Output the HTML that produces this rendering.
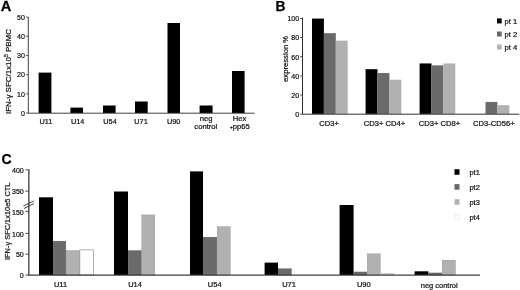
<!DOCTYPE html>
<html><head><meta charset="utf-8"><title>Figure</title>
<style>
html,body{margin:0;padding:0;background:#fff;}
body{width:520px;height:290px;overflow:hidden;}
svg{display:block;font-family:"Liberation Sans",Arial,sans-serif;fill:#111;}
text{stroke:#111;stroke-width:0.22px;}
text.big{stroke:#000;stroke-width:0.25px;fill:#000;}
</style></head><body>
<svg width="520" height="290" viewBox="0 0 520 290">
<rect width="520" height="290" fill="#fff"/>
<defs><filter id="bl" x="0" y="0" width="520" height="290" filterUnits="userSpaceOnUse"><feGaussianBlur stdDeviation="0.4"/></filter></defs>
<g filter="url(#bl)">
<g id="pA">
<text transform="translate(0.8,11) scale(1.06,1)" font-size="13.8" font-weight="bold" class="big">A</text>
<rect x="38.60" y="72.60" width="12.80" height="40.40" fill="#000"/>
<rect x="70.40" y="107.60" width="12.60" height="5.40" fill="#000"/>
<rect x="103.00" y="105.50" width="12.60" height="7.50" fill="#000"/>
<rect x="135.00" y="101.50" width="12.70" height="11.50" fill="#000"/>
<rect x="167.50" y="23.00" width="12.50" height="90.00" fill="#000"/>
<rect x="199.60" y="105.50" width="13.00" height="7.50" fill="#000"/>
<rect x="232.00" y="71.00" width="12.60" height="42.00" fill="#000"/>
<path d="M28.3 17V113.2H254.5" fill="none" stroke="#383838" stroke-width="0.95"/>
<path d="M25.8 17.10H28.3" stroke="#383838" stroke-width="0.8"/>
<text transform="translate(24.9,19.90) scale(0.885,1)" font-size="8.0" text-anchor="end">50</text>
<path d="M25.8 36.28H28.3" stroke="#383838" stroke-width="0.8"/>
<text transform="translate(24.9,39.08) scale(0.885,1)" font-size="8.0" text-anchor="end">40</text>
<path d="M25.8 55.46H28.3" stroke="#383838" stroke-width="0.8"/>
<text transform="translate(24.9,58.26) scale(0.885,1)" font-size="8.0" text-anchor="end">30</text>
<path d="M25.8 74.64H28.3" stroke="#383838" stroke-width="0.8"/>
<text transform="translate(24.9,77.44) scale(0.885,1)" font-size="8.0" text-anchor="end">20</text>
<path d="M25.8 93.82H28.3" stroke="#383838" stroke-width="0.8"/>
<text transform="translate(24.9,96.62) scale(0.885,1)" font-size="8.0" text-anchor="end">10</text>
<path d="M25.8 113.00H28.3" stroke="#383838" stroke-width="0.8"/>
<text transform="translate(24.9,115.80) scale(0.885,1)" font-size="8.0" text-anchor="end">0</text>
<text transform="translate(45.9,124) scale(1,1)" font-size="7.3" text-anchor="middle">U11</text>
<text transform="translate(77.7,124) scale(1,1)" font-size="7.3" text-anchor="middle">U14</text>
<text transform="translate(110,124) scale(1,1)" font-size="7.3" text-anchor="middle">U54</text>
<text transform="translate(141,124) scale(1,1)" font-size="7.3" text-anchor="middle">U71</text>
<text transform="translate(173.7,124) scale(1,1)" font-size="7.3" text-anchor="middle">U90</text>
<text transform="translate(206.2,120.8) scale(1.06,1)" font-size="7.2" text-anchor="middle">neg</text>
<text transform="translate(205.8,129.4) scale(1.06,1)" font-size="7.2" text-anchor="middle">control</text>
<text transform="translate(239.6,120.8) scale(1.06,1)" font-size="7.2" text-anchor="middle">Hex</text>
<text transform="translate(239.7,129.4) scale(1.06,1)" font-size="7.2" text-anchor="middle"><tspan font-size="5" dy="-0.6">+</tspan><tspan dy="0.6">pp65</tspan></text>
<text transform="translate(10.8,114) rotate(-90)" font-size="7.7" textLength="85" lengthAdjust="spacingAndGlyphs">IFN-γ SFC/1x10<tspan font-size="5" dy="-3">5</tspan><tspan dy="3"> PBMC</tspan></text>
</g>
<g id="pB">
<text x="275.4" y="11" font-size="13.8" font-weight="bold" class="big">B</text>
<rect x="312.00" y="18.59" width="11.90" height="95.31" fill="#000"/>
<rect x="323.90" y="33.15" width="11.90" height="80.75" fill="#6a6a6a"/>
<rect x="335.80" y="40.63" width="11.90" height="73.27" fill="#b1b1b1"/>
<rect x="365.60" y="69.17" width="11.90" height="44.73" fill="#000"/>
<rect x="377.50" y="73.01" width="11.90" height="40.89" fill="#6a6a6a"/>
<rect x="389.40" y="79.71" width="11.90" height="34.19" fill="#b1b1b1"/>
<rect x="419.60" y="63.43" width="11.90" height="50.47" fill="#000"/>
<rect x="431.50" y="65.34" width="11.90" height="48.56" fill="#6a6a6a"/>
<rect x="443.40" y="63.43" width="11.90" height="50.47" fill="#b1b1b1"/>
<rect x="485.50" y="101.94" width="11.90" height="11.96" fill="#6a6a6a"/>
<rect x="497.40" y="105.19" width="11.90" height="8.71" fill="#b1b1b1"/>
<path d="M302.5 17.8V114.2H519.4" fill="none" stroke="#2e2e2e" stroke-width="1"/>
<path d="M300 18.40H302.5" stroke="#2e2e2e" stroke-width="0.8"/>
<text transform="translate(299.2,21.20) scale(0.885,1)" font-size="8.0" text-anchor="end">100</text>
<path d="M300 37.56H302.5" stroke="#2e2e2e" stroke-width="0.8"/>
<text transform="translate(299.2,40.36) scale(0.885,1)" font-size="8.0" text-anchor="end">80</text>
<path d="M300 56.72H302.5" stroke="#2e2e2e" stroke-width="0.8"/>
<text transform="translate(299.2,59.52) scale(0.885,1)" font-size="8.0" text-anchor="end">60</text>
<path d="M300 75.88H302.5" stroke="#2e2e2e" stroke-width="0.8"/>
<text transform="translate(299.2,78.68) scale(0.885,1)" font-size="8.0" text-anchor="end">40</text>
<path d="M300 95.04H302.5" stroke="#2e2e2e" stroke-width="0.8"/>
<text transform="translate(299.2,97.84) scale(0.885,1)" font-size="8.0" text-anchor="end">20</text>
<path d="M300 114.20H302.5" stroke="#2e2e2e" stroke-width="0.8"/>
<text transform="translate(299.2,117.00) scale(0.885,1)" font-size="8.0" text-anchor="end">0</text>
<text transform="translate(329.1,126.1) scale(0.99,1)" font-size="7.7" text-anchor="middle">CD3+</text>
<text transform="translate(384.5,126.1) scale(0.99,1)" font-size="7.7" text-anchor="middle">CD3+ CD4+</text>
<text transform="translate(439.5,126.1) scale(0.99,1)" font-size="7.7" text-anchor="middle">CD3+ CD8+</text>
<text transform="translate(493.8,126.1) scale(0.99,1)" font-size="7.7" text-anchor="middle">CD3-CD56+</text>
<text transform="translate(288.2,58.9) rotate(-90)" font-size="7.6" textLength="46" lengthAdjust="spacingAndGlyphs" text-anchor="middle">expression %</text>
<rect x="497.00" y="18.40" width="4.70" height="5.00" fill="#000"/>
<text transform="translate(504.5,23.70) scale(0.99,1)" font-size="7.7">pt 1</text>
<rect x="497.00" y="31.50" width="4.70" height="5.00" fill="#6a6a6a"/>
<text transform="translate(504.5,36.80) scale(0.99,1)" font-size="7.7">pt 2</text>
<rect x="497.00" y="44.50" width="4.70" height="5.00" fill="#b1b1b1"/>
<text transform="translate(504.5,49.80) scale(0.99,1)" font-size="7.7">pt 4</text>
</g>
<g id="pC">
<text x="1.4" y="164.2" font-size="14" font-weight="bold" class="big">C</text>
<rect x="39.00" y="197.30" width="14.00" height="77.70" fill="#000"/>
<rect x="53.15" y="241.15" width="12.70" height="33.85" fill="#6a6a6a" stroke="#555" stroke-width="0.35"/>
<rect x="66.15" y="250.55" width="13.30" height="24.45" fill="#b1b1b1" stroke="#8a8a8a" stroke-width="0.35"/>
<rect x="79.90" y="249.90" width="13.80" height="25.10" fill="#fff" stroke="#666" stroke-width="0.5"/>
<rect x="114.00" y="191.50" width="14.00" height="83.50" fill="#000"/>
<rect x="128.15" y="250.55" width="13.30" height="24.45" fill="#6a6a6a" stroke="#555" stroke-width="0.35"/>
<rect x="141.75" y="214.95" width="13.10" height="60.05" fill="#b1b1b1" stroke="#8a8a8a" stroke-width="0.35"/>
<rect x="190.00" y="171.40" width="13.00" height="103.60" fill="#000"/>
<rect x="203.15" y="237.15" width="13.70" height="37.85" fill="#6a6a6a" stroke="#555" stroke-width="0.35"/>
<rect x="217.15" y="226.65" width="13.10" height="48.35" fill="#b1b1b1" stroke="#8a8a8a" stroke-width="0.35"/>
<rect x="264.60" y="262.60" width="13.40" height="12.40" fill="#000"/>
<rect x="278.15" y="268.75" width="13.30" height="6.25" fill="#6a6a6a" stroke="#555" stroke-width="0.35"/>
<rect x="339.60" y="205.00" width="14.00" height="70.00" fill="#000"/>
<rect x="353.75" y="271.95" width="13.10" height="3.05" fill="#6a6a6a" stroke="#555" stroke-width="0.35"/>
<rect x="367.15" y="253.75" width="13.10" height="21.25" fill="#b1b1b1" stroke="#8a8a8a" stroke-width="0.35"/>
<rect x="380.40" y="273.00" width="14.00" height="2.00" fill="#cfcfcf"/>
<rect x="414.60" y="271.30" width="13.80" height="3.70" fill="#000"/>
<rect x="428.55" y="272.95" width="13.30" height="2.05" fill="#6a6a6a" stroke="#555" stroke-width="0.35"/>
<rect x="442.15" y="260.15" width="13.30" height="14.85" fill="#b1b1b1" stroke="#8a8a8a" stroke-width="0.35"/>
<path d="M28.85 169.3V275.5" fill="none" stroke="#3c3c3c" stroke-width="1.3"/><path d="M28.1 275.1H480" fill="none" stroke="#3c3c3c" stroke-width="1.05"/>
<path d="M25.4 169.8H28.85" stroke="#3c3c3c" stroke-width="0.9"/>
<text transform="translate(23.8,173.26) scale(0.885,1)" font-size="8.0" text-anchor="end">400</text>
<path d="M25.4 191.2H28.85" stroke="#3c3c3c" stroke-width="0.9"/>
<text transform="translate(23.8,194.26) scale(0.885,1)" font-size="8.0" text-anchor="end">350</text>
<path d="M25.4 211.4H28.85" stroke="#3c3c3c" stroke-width="0.9"/>
<text transform="translate(23.8,215.06) scale(0.885,1)" font-size="8.0" text-anchor="end">150</text>
<path d="M25.4 233.4H28.85" stroke="#3c3c3c" stroke-width="0.9"/>
<text transform="translate(23.8,236.66) scale(0.885,1)" font-size="8.0" text-anchor="end">100</text>
<path d="M25.4 254.2H28.85" stroke="#3c3c3c" stroke-width="0.9"/>
<text transform="translate(23.8,257.06) scale(0.885,1)" font-size="8.0" text-anchor="end">50</text>
<path d="M25.4 275H28.85" stroke="#3c3c3c" stroke-width="0.9"/>
<text transform="translate(23.8,278.06) scale(0.885,1)" font-size="8.0" text-anchor="end">0</text>
<path d="M23.3 206L33.7 201M24 208.5L34 203.5" stroke="#2e2e2e" stroke-width="0.9" fill="none"/>
<text transform="translate(60.5,287.4) scale(1.04,1)" font-size="7.2" text-anchor="middle">U11</text>
<text transform="translate(135,287.4) scale(1.04,1)" font-size="7.2" text-anchor="middle">U14</text>
<text transform="translate(214.7,287.4) scale(1.04,1)" font-size="7.2" text-anchor="middle">U54</text>
<text transform="translate(289,287.4) scale(1.04,1)" font-size="7.2" text-anchor="middle">U71</text>
<text transform="translate(363.8,287.4) scale(1.04,1)" font-size="7.2" text-anchor="middle">U90</text>
<text transform="translate(439.2,287.9) scale(1.04,1)" font-size="7.2" text-anchor="middle">neg control</text>
<text transform="translate(9.5,260) rotate(-90)" font-size="7.5" textLength="77.5" lengthAdjust="spacingAndGlyphs">IFN-γ SFC/1x10e5 CTL</text>
<rect x="454.50" y="169.20" width="5.00" height="5.60" fill="#000"/>
<text transform="translate(469.5,175.00) scale(1.0,1)" font-size="7.4">pt1</text>
<rect x="454.50" y="184.10" width="5.00" height="5.60" fill="#6a6a6a"/>
<text transform="translate(469.5,190.20) scale(1.0,1)" font-size="7.4">pt2</text>
<rect x="454.50" y="199.20" width="5.00" height="5.60" fill="#b1b1b1"/>
<text transform="translate(469.5,205.10) scale(1.0,1)" font-size="7.4">pt3</text>
<rect x="454.80" y="214.70" width="4.50" height="5.00" fill="#fff" stroke="#e2e2e2" stroke-width="0.6"/>
<text transform="translate(469.5,219.90) scale(1.0,1)" font-size="7.4">pt4</text>
</g>
</g>
</svg>
</body></html>
